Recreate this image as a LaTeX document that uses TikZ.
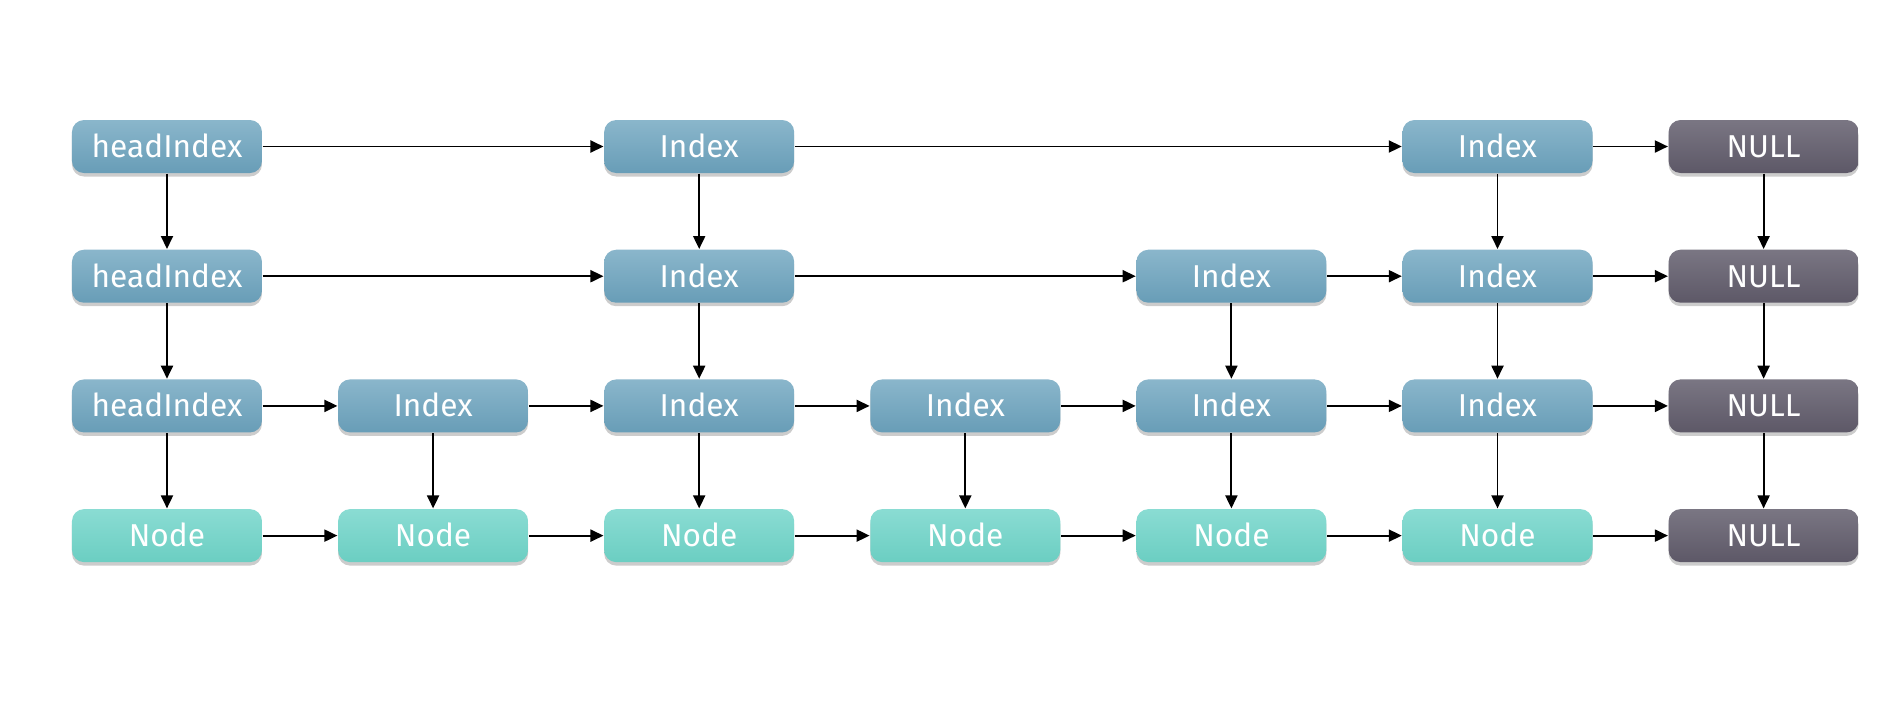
\documentclass[tikz,border=0pt]{standalone}
\usepackage{fontspec}
\setmainfont{Fira Sans}
\usepackage{tikz}
\usetikzlibrary{matrix, arrows.meta, shadows, positioning}

\definecolor{idxtop}{HTML}{8AB6CB}
\definecolor{idxbot}{HTML}{689DB7}
\definecolor{datatop}{HTML}{8ADCD3}
\definecolor{databot}{HTML}{6BCEC2}
\definecolor{nultop}{HTML}{7A7683}
\definecolor{nulbot}{HTML}{5D5867}

\begin{document}
\begin{tikzpicture}
 \tikzset{box/.style={rounded corners=1.2mm, minimum width=19mm, minimum height=5.3mm,
        text height=6.2pt, text depth=0pt, inner sep=0pt, text=white,
        font=\fontsize{9}{11}\selectfont,
        drop shadow={shadow xshift=0pt, shadow yshift=-0.35mm, opacity=0.4}}}
 \tikzset{idx/.style={top color=idxtop, bottom color=idxbot}}
 \tikzset{data/.style={top color=datatop, bottom color=databot}}
 \tikzset{nul/.style={top color=nultop, bottom color=nulbot}}
 \tikzset{link/.style={-{Triangle[length=1.3mm,width=1.2mm]}, line width=0.55pt}}
 \useasboundingbox (-9.653,-3.7095) rectangle (9.267,3.4105);

 \matrix (L) at (0,0) [matrix of nodes, nodes={box, idx}, row 4/.style={nodes=data},
    column sep=7.61mm, row sep=7.67mm, inner sep=0pt]
 {%
   headIndex &       & Index &       &       & Index & |[nul]| NULL \\
   headIndex &       & Index &       & Index & Index & |[nul]| NULL \\
   headIndex & Index & Index & Index & Index & Index & |[nul]| NULL \\
   Node      & Node  & Node  & Node  & Node  & Node  & |[nul]| NULL \\
 };
 % levels, left to right
 \draw [link] (L-1-1) edge (L-1-3) (L-1-3) edge (L-1-6) (L-1-6) edge (L-1-7);
 \draw [link] (L-2-1) edge (L-2-3) (L-2-3) edge (L-2-5) (L-2-5) edge (L-2-6)
    (L-2-6) edge (L-2-7);
 \draw [link] (L-3-1) edge (L-3-2) (L-3-2) edge (L-3-3) (L-3-3) edge (L-3-4)
    (L-3-4) edge (L-3-5) (L-3-5) edge (L-3-6) (L-3-6) edge (L-3-7);
 \draw [link] (L-4-1) edge (L-4-2) (L-4-2) edge (L-4-3) (L-4-3) edge (L-4-4)
    (L-4-4) edge (L-4-5) (L-4-5) edge (L-4-6) (L-4-6) edge (L-4-7);
 % down links
 \draw [link] (L-1-1) edge (L-2-1) (L-2-1) edge (L-3-1) (L-3-1) edge (L-4-1);
 \draw [link] (L-1-3) edge (L-2-3) (L-2-3) edge (L-3-3) (L-3-3) edge (L-4-3);
 \draw [link] (L-1-6) edge (L-2-6) (L-2-6) edge (L-3-6) (L-3-6) edge (L-4-6);
 \draw [link] (L-1-7) edge (L-2-7) (L-2-7) edge (L-3-7) (L-3-7) edge (L-4-7);
 \draw [link] (L-2-5) edge (L-3-5) (L-3-5) edge (L-4-5);
 \draw [link] (L-3-2) edge (L-4-2) (L-3-4) edge (L-4-4);
\end{tikzpicture}
\end{document}
